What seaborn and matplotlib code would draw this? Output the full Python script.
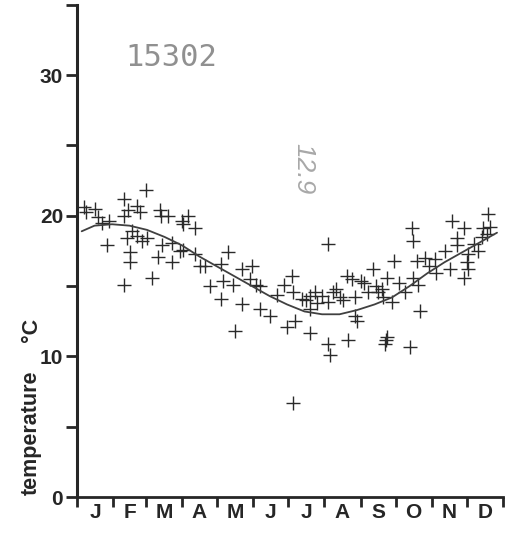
import numpy as np
import pandas as pd
import matplotlib
matplotlib.use('Agg')
import matplotlib.pyplot as plt
import seaborn as sns

# -------------------------
# Data (day of year, temperature in deg C)
# -------------------------
obs_day = [6, 8, 15, 18, 21, 27, 26,
           40, 51, 44, 54, 40, 59, 47, 51, 43, 45, 45, 40, 56,
           60, 71, 72, 78, 73, 69, 81, 81, 64, 88, 90,
           95, 91, 101, 91, 101, 105, 110, 114, 123, 125, 123, 129,
           134, 135, 141, 141, 150, 148, 153, 157, 157,
           165, 171, 177, 180, 184, 185, 187, 185,
           193, 196, 200, 204, 206, 210, 200, 200, 215, 215, 215, 217,
           219, 222, 225, 228, 231, 232, 236, 238, 238, 240, 243, 246, 249, 254, 256, 258,
           261, 262, 264, 265, 266, 266, 270, 272, 276, 281, 285,
           287, 288, 288, 291, 292, 294, 298, 302, 307, 308, 315,
           320, 321, 326, 326, 332, 332, 334, 335, 335, 340, 344,
           347, 348, 351, 352, 354]
obs_temp = [20.6, 20.3, 20.5, 19.9, 19.5, 19.6, 17.9,
            21.2, 20.7, 20.4, 20.3, 20.0, 21.8, 18.9, 18.6, 18.4, 17.4, 16.7, 15.1, 18.2,
            18.4, 20.4, 20.0, 20.0, 17.9, 17.1, 18.1, 16.7, 15.6, 17.5, 19.6,
            20.0, 19.4, 19.1, 17.6, 17.3, 16.4, 16.4, 15.0, 16.6, 15.4, 14.1, 17.4,
            15.1, 11.8, 16.2, 13.7, 16.4, 15.5, 15.1, 15.0, 13.4,
            12.9, 14.4, 15.1, 12.1, 15.7, 14.6, 12.5, 6.7,
            14.1, 14.0, 14.3, 14.6, 13.8, 14.3, 13.4, 11.7, 13.9, 18.0, 10.9, 10.1,
            14.6, 14.8, 14.2, 14.0, 15.7, 11.2, 15.5, 14.2, 12.9, 12.5, 15.4, 15.2, 14.6, 16.2, 15.0, 14.6,
            14.8, 14.2, 10.9, 11.2, 11.4, 15.6, 13.9, 16.8, 15.2, 14.6, 10.7,
            19.1, 18.2, 15.6, 16.8, 15.1, 13.2, 17.0, 16.4, 16.9, 15.9, 17.5,
            16.2, 19.6, 18.4, 17.9, 19.1, 15.6, 16.7, 17.3, 16.2, 18.0, 17.5,
            18.5, 19.1, 18.7, 20.1, 19.2]

# fitted seasonal curve, read at half-month steps
curve_day = [4, 15, 30, 45, 60, 75, 90, 105, 120, 135, 150, 165, 180,
             195, 210, 225, 240, 255, 270, 285, 300, 315, 330, 345, 360]
curve_temp = [18.9, 19.3, 19.4, 19.3, 19.0, 18.5, 17.9, 17.1, 16.4, 15.7, 15.0, 14.3, 13.7,
              13.2, 13.0, 13.0, 13.3, 13.7, 14.2, 15.0, 15.9, 16.7, 17.4, 18.1, 18.8]

month_starts = [0, 31, 59, 90, 120, 151, 181, 212, 243, 273, 304, 334, 365]
month_labels = ['J', 'F', 'M', 'A', 'M', 'J', 'J', 'A', 'S', 'O', 'N', 'D']

obs = pd.DataFrame({'day': obs_day, 'temp': obs_temp})
curve = pd.DataFrame({'day': curve_day, 'temp': curve_temp})

# -------------------------
# Plot
# -------------------------
sns.set_style('ticks')
plt.rcParams['font.family'] = ['Liberation Sans', 'DejaVu Sans']

fig = plt.figure(figsize=(5.10, 5.34), dpi=100)
ax = fig.add_axes([0.151, 0.069, 0.835, 0.922])

sns.lineplot(data=curve, x='day', y='temp', color='#404040', linewidth=1.3, ax=ax)
sns.scatterplot(data=obs, x='day', y='temp', marker='+', s=95, color='#2a2a2a',
                linewidth=1.0, ax=ax)

ax.set_xlim(0, 365)
ax.set_ylim(0, 35)

ax.set_yticks([0, 5, 10, 15, 20, 25, 30, 35])
ax.set_yticklabels(['0', '', '10', '', '20', '', '30', ''],
                   fontsize=15, fontweight='bold')
ax.tick_params(axis='y', direction='out', length=8, width=2, pad=2)

ax.set_xticks(month_starts)
ax.set_xticklabels([])
mid = [(a + b) / 2 for a, b in zip(month_starts[:-1], month_starts[1:])]
ax.set_xticks(mid, minor=True)
ax.set_xticklabels(month_labels, minor=True, fontsize=15, fontweight='bold')
ax.tick_params(axis='x', which='major', direction='out', length=7, width=2)
ax.tick_params(axis='x', which='minor', length=0, pad=4)

sns.despine(ax=ax, top=True, right=True)
ax.spines['left'].set_linewidth(2.2)
ax.spines['bottom'].set_linewidth(2.0)
ax.set_xlabel('')
ax.set_ylabel('')

fig.text(0.062, 0.19, 'temperature', rotation=90, ha='center', va='center',
         fontsize=15.5, fontweight='bold')
fig.text(0.062, 0.382, '°C', rotation=90, ha='center', va='center',
         fontsize=15.5, fontweight='bold')

fig.text(0.335, 0.893, '15302', ha='center', va='center', fontsize=22,
         color='#909090', family='DejaVu Sans Mono')
fig.text(0.595, 0.685, '12.9', rotation=-90, ha='center', va='center',
         fontsize=19, color='#a8a8a8', style='italic')

fig.savefig('out.png', dpi=100)
